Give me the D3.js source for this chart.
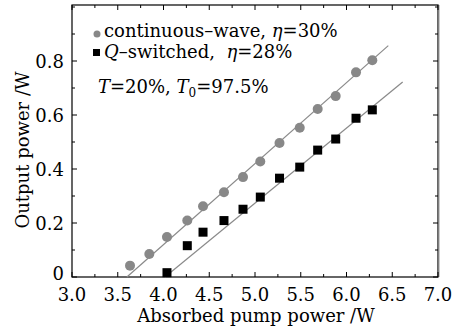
<!DOCTYPE html>
<html><head><meta charset="utf-8">
<script src="https://cdn.jsdelivr.net/npm/d3@7"></script>
<style>html,body{margin:0;padding:0;background:#fff;}svg{display:block;}</style>
</head><body>
<svg id="c" width="468" height="328"></svg>
<script>
// ---- data ----
const cwX = [3.634, 3.845, 4.038, 4.260, 4.432, 4.661, 4.869, 5.058, 5.268, 5.489, 5.685, 5.882, 6.104, 6.282];
const cwY = [0.042, 0.085, 0.148, 0.209, 0.262, 0.314, 0.370, 0.428, 0.496, 0.553, 0.622, 0.670, 0.758, 0.803];
const qsX = [4.038, 4.260, 4.432, 4.661, 4.869, 5.058, 5.268, 5.489, 5.685, 5.882, 6.104, 6.282];
const qsY = [0.016, 0.116, 0.166, 0.209, 0.251, 0.296, 0.366, 0.407, 0.470, 0.511, 0.588, 0.619];
const fitSlope = [0.300, 0.278];      // W/W
const fitThreshold = [3.600, 4.016];  // x where fit = 0
const fitEnd = [6.457, 6.614];        // x where fit line ends
const xTicks = [3.0, 3.5, 4.0, 4.5, 5.0, 5.5, 6.0, 6.5, 7.0];
const yTicks = [0, 0.2, 0.4, 0.6, 0.8];
const xLabel = "Absorbed pump power /W";
const yLabel = "Output power /W";

// ---- layout ----
const L = 72, R = 438, T = 7, B = 277;
const svg = d3.select("#c");
const font = "'DejaVu Serif', serif";
const fs = 18;
const x = d3.scaleLinear().domain([3.0, 7.0]).range([L, R]);
const y = d3.scaleLinear().domain([0, 1.0]).range([B, T]);

// frame
svg.append("rect").attr("x", L).attr("y", 5).attr("width", R - L).attr("height", B - 5)
  .attr("fill", "none").attr("stroke", "#000").attr("stroke-width", 1.2);
svg.append("line").attr("x1", R + 1).attr("x2", R + 1).attr("y1", 5).attr("y2", B)
  .attr("stroke", "#999").attr("stroke-width", 1);

// axes with inward ticks
const xMinor = d3.range(3.0, 7.001, 0.25);
const yMinor = d3.range(0, 1.0001, 0.1);
function isMajor(v, arr) { return arr.some(t => Math.abs(t - v) < 1e-6); }

const gx = svg.append("g");
xMinor.forEach(v => {
  const len = isMajor(v, xTicks) ? 5 : 3;
  gx.append("line").attr("x1", x(v)).attr("x2", x(v)).attr("y1", B).attr("y2", B - len).attr("stroke", "#000");
  gx.append("line").attr("x1", x(v)).attr("x2", x(v)).attr("y1", 5).attr("y2", 5 + len).attr("stroke", "#000");
});
const gy = svg.append("g");
yMinor.forEach(v => {
  if (y(v) < 6) return;
  const len = isMajor(v, yTicks) ? 5 : 3;
  gy.append("line").attr("x1", L).attr("x2", L + len).attr("y1", y(v)).attr("y2", y(v)).attr("stroke", "#000");
  gy.append("line").attr("x1", R).attr("x2", R - len).attr("y1", y(v)).attr("y2", y(v)).attr("stroke", "#000");
});

// tick labels
svg.append("g").selectAll("text").data(xTicks).join("text")
  .attr("x", d => x(d)).attr("y", 301).attr("text-anchor", "middle")
  .attr("font-family", font).attr("font-size", fs).text(d => d.toFixed(1));
svg.append("g").selectAll("text").data(yTicks).join("text")
  .attr("x", 64).attr("y", d => y(d) + (d === 0 ? 2.5 : 6.5)).attr("text-anchor", "end")
  .attr("font-family", font).attr("font-size", fs).text(d => d === 0 ? "0" : d.toFixed(1));

// axis titles
svg.append("text").attr("x", 256).attr("y", 322).attr("text-anchor", "middle")
  .attr("font-family", font).attr("font-size", fs).text(xLabel);
svg.append("text").attr("transform", `translate(29,150) rotate(-90)`).attr("text-anchor", "middle")
  .attr("font-family", font).attr("font-size", fs).text(yLabel);

// fit lines
[0, 1].forEach(i => {
  const xs = [fitThreshold[i], fitEnd[i]];
  svg.append("line")
    .attr("x1", x(xs[0])).attr("y1", y(0))
    .attr("x2", x(xs[1])).attr("y2", y(fitSlope[i] * (xs[1] - xs[0])))
    .attr("stroke", "#8a8a8a").attr("stroke-width", 1.2);
});

// points
const cw = cwX.map((v, i) => [v, cwY[i]]);
const qs = qsX.map((v, i) => [v, qsY[i]]);
svg.append("g").selectAll("circle").data(cw).join("circle")
  .attr("cx", d => x(d[0])).attr("cy", d => y(d[1])).attr("r", 5)
  .attr("fill", "#888");
const s = 9;
svg.append("g").selectAll("rect").data(qs).join("rect")
  .attr("x", d => x(d[0]) - s / 2).attr("y", d => y(d[1]) - s / 2)
  .attr("width", s).attr("height", s).attr("fill", "#000");

// legend
svg.append("circle").attr("cx", 97).attr("cy", 34).attr("r", 3.5).attr("fill", "#888");
svg.append("rect").attr("x", 93).attr("y", 49).attr("width", 7).attr("height", 7).attr("fill", "#000");
const t1 = svg.append("text").attr("x", 104).attr("y", 37).attr("font-family", font).attr("font-size", fs);
t1.append("tspan").text("continuous\u2013wave, ");
t1.append("tspan").attr("font-style", "italic").text("\u03b7");
t1.append("tspan").text("=30%");
const t2 = svg.append("text").attr("x", 104).attr("y", 58).attr("font-family", font).attr("font-size", fs);
t2.append("tspan").attr("font-style", "italic").text("Q");
t2.append("tspan").text("\u2013switched,\u00a0 ");
t2.append("tspan").attr("font-style", "italic").text("\u03b7");
t2.append("tspan").text("=28%");
const t3 = svg.append("text").attr("x", 98).attr("y", 93).attr("font-family", font).attr("font-size", fs);
t3.append("tspan").attr("font-style", "italic").text("T");
t3.append("tspan").text("=20%, ");
t3.append("tspan").attr("font-style", "italic").text("T");
t3.append("tspan").attr("font-size", 12).attr("dy", 4).text("0");
t3.append("tspan").attr("dy", -4).text("=97.5%");
</script>
</body></html>
